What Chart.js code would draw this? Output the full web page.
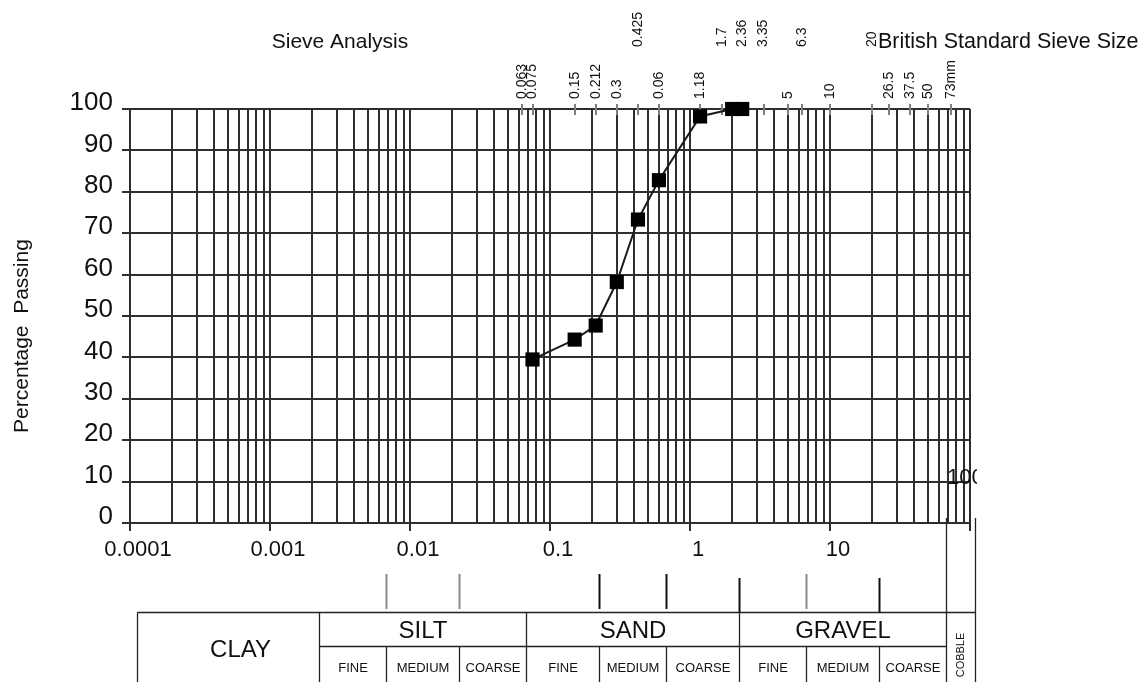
<!DOCTYPE html>
<html>
<head>
<meta charset="utf-8">
<title>Sieve Analysis</title>
<script src="https://cdn.jsdelivr.net/npm/chart.js@4/dist/chart.umd.min.js"></script>
<style>
  html, body { margin: 0; padding: 0; background: #fff; overflow: hidden; }
  canvas { display: block; }
</style>
</head>
<body>
<canvas id="grading" width="1147" height="682"></canvas>
<script>
// Measured sample: particle size (mm) against percentage passing
const sampleSizes = [0.075, 0.15, 0.212, 0.3, 0.425, 0.6, 1.18, 2.0, 2.36];
const percentPassing = [39.5, 44.3, 47.7, 58.2, 73.3, 82.8, 98.2, 100, 100];

// British Standard sieve apertures (mm) and the text printed for each
const sieveSizes = [0.063, 0.075, 0.15, 0.212, 0.3, 0.425, 0.6, 1.18, 1.7, 2.36, 3.35, 5, 6.3, 10, 20, 26.5, 37.5, 50, 73];
const sieveLabels = ['0.063', '0.075', '0.15', '0.212', '0.3', '0.425', '0.06', '1.18', '1.7', '2.36', '3.35', '5', '6.3', '10', '20', '26.5', '37.5', '50', '73mm'];

// Decade tick labels on the particle size axis
const decadeValues = [0.0001, 0.001, 0.01, 0.1, 1, 10];
const decadeLabels = ['0.0001', '0.001', '0.01', '0.1', '1', '10'];

// Soil classification boundaries (mm) and zone names
const zoneBounds = [0.002, 0.006, 0.02, 0.06, 0.2, 0.6, 2, 6, 20, 60];
const mainZones = ['CLAY', 'SILT', 'SAND', 'GRAVEL'];
const subZones = ['FINE', 'MEDIUM', 'COARSE'];

const FONT = '"Liberation Sans", Arial, Helvetica, sans-serif';
const INK = '#111';
const GRID = '#2e2e2e';

// log-cycle grid: 1..9 in every decade from 0.0001 to 100
const gridValues = [];
for (let e = -4; e <= 1; e++) {
  for (let m = 1; m <= 9; m++) gridValues.push(Number((m * Math.pow(10, e)).toPrecision(3)));
}
gridValues.push(100);

const isDecade = v => decadeValues.some(d => Math.abs(d - v) / d < 1e-6) || Math.abs(v - 100) < 1e-6;

// sieve labels lifted to a second row so neighbours do not collide
const raisedSieves = [0.425, 1.7, 2.36, 3.35, 6.3, 20];

function line(ctx, x1, y1, x2, y2) {
  ctx.beginPath();
  ctx.moveTo(x1, y1);
  ctx.lineTo(x2, y2);
  ctx.stroke();
}

const sheetDecor = {
  id: 'sheetDecor',
  beforeDatasetsDraw(chart) {
    const { ctx, scales: { x } } = chart;
    const top = chart.chartArea.top;
    ctx.save();
    ctx.strokeStyle = '#808080';
    ctx.lineWidth = 2;
    sieveSizes.forEach(s => {
      const px = Math.round(x.getPixelForValue(s));
      line(ctx, px, top - 5, px, top + 6);
    });
    ctx.restore();
  },
  afterDraw(chart) {
    const { ctx, chartArea: ca, scales: { x, y } } = chart;
    const H = chart.height;
    ctx.save();
    ctx.fillStyle = INK;

    // headings
    ctx.font = `21px ${FONT}`;
    ctx.textBaseline = 'alphabetic';
    ctx.textAlign = 'center';
    ctx.fillText('Sieve Analysis', 340, 48);
    ctx.textAlign = 'left';
    ctx.font = `21.5px ${FONT}`;
    ctx.fillText('British Standard Sieve Size', 878, 48);

    // vertical axis title
    ctx.save();
    ctx.translate(22, 336);
    ctx.rotate(-Math.PI / 2);
    ctx.textAlign = 'center';
    ctx.textBaseline = 'middle';
    ctx.font = `21px ${FONT}`;
    ctx.fillText('Percentage  Passing', 0, 0);
    ctx.restore();

    // sieve aperture labels along the top edge
    ctx.font = `14px ${FONT}`;
    sieveSizes.forEach((s, i) => {
      const px = x.getPixelForValue(s);
      const yb = raisedSieves.includes(s) ? ca.top - 62 : ca.top - 10;
      ctx.save();
      ctx.translate(px, yb);
      ctx.rotate(-Math.PI / 2);
      ctx.textAlign = 'left';
      ctx.textBaseline = 'middle';
      ctx.fillText(sieveLabels[i], 0, 0);
      ctx.restore();
    });

    // end label of the size axis, cut by the sheet edge
    ctx.save();
    ctx.beginPath();
    ctx.rect(0, 0, ca.right + 7, H);
    ctx.clip();
    ctx.font = `22px ${FONT}`;
    ctx.textAlign = 'left';
    ctx.textBaseline = 'middle';
    ctx.fillText('100', x.getPixelForValue(100) - 23, y.getPixelForValue(11));
    ctx.restore();

    // classification table under the axis
    const shift = 7;
    const bx = v => Math.round(x.getPixelForValue(v)) + shift + 0.5;
    const tTop = ca.bottom + 89.5;
    const tMid = ca.bottom + 123.5;
    const tBot = H + 2;
    const tLeft = Math.round(ca.left) + shift + 0.5;
    const tRight = Math.round(ca.right) + 5.5;
    // boundary pixels, in the order of zoneBounds
    const [p002, p006, p02, p06, p2, p6, p20, p60, p200, p600] = zoneBounds.map(bx);

    ctx.strokeStyle = '#222';
    ctx.lineWidth = 1.3;
    line(ctx, tLeft, tTop, tRight, tTop);
    line(ctx, tLeft, tTop, tLeft, tBot);
    line(ctx, tRight, ca.bottom - 5, tRight, tBot);
    line(ctx, p600, ca.bottom - 5, p600, tBot);
    line(ctx, p002, tMid, p600, tMid);
    [p002, p06, p20].forEach(p => line(ctx, p, tTop, p, tBot));
    [p006, p02, p2, p6, p60, p200].forEach(p => line(ctx, p, tMid, p, tBot));

    // boundary markers above the table
    const markTop = ca.bottom + 51;
    const markBot = ca.bottom + 86;
    ctx.lineWidth = 2;
    ctx.strokeStyle = '#8a8a8a';
    [p006, p02, p60].forEach(p => line(ctx, p, markTop, p, markBot));
    ctx.strokeStyle = '#111';
    [p2, p6].forEach(p => line(ctx, p, markTop, p, markBot));
    [p20, p200].forEach(p => line(ctx, p, markTop + 4, p, tTop));

    // zone names
    ctx.fillStyle = INK;
    ctx.textAlign = 'center';
    ctx.textBaseline = 'middle';
    ctx.font = `24px ${FONT}`;
    ctx.fillText(mainZones[0], (tLeft + p002) / 2 + 12, ca.bottom + 127);
    ctx.fillText(mainZones[1], (p002 + p06) / 2, ca.bottom + 108);
    ctx.fillText(mainZones[2], (p06 + p20) / 2, ca.bottom + 108);
    ctx.fillText(mainZones[3], (p20 + p600) / 2, ca.bottom + 108);

    ctx.font = `13px ${FONT}`;
    const groups = [[p002, p006, p02, p06], [p06, p2, p6, p20], [p20, p60, p200, p600]];
    groups.forEach(g => {
      for (let k = 0; k < 3; k++) {
        ctx.fillText(subZones[k], (g[k] + g[k + 1]) / 2, ca.bottom + 145);
      }
    });

    ctx.save();
    ctx.translate((p600 + tRight) / 2, ca.bottom + 132);
    ctx.rotate(-Math.PI / 2);
    ctx.font = `11px ${FONT}`;
    ctx.fillText('COBBLE', 0, 0);
    ctx.restore();

    ctx.restore();
  }
};

new Chart(document.getElementById('grading'), {
  type: 'line',
  data: {
    datasets: [{
      data: sampleSizes.map((s, i) => ({ x: s, y: percentPassing[i] })),
      borderColor: '#1a1a1a',
      borderWidth: 2,
      pointStyle: 'rect',
      pointRadius: 10,
      pointHoverRadius: 10,
      pointBackgroundColor: '#000',
      pointBorderColor: '#000',
      pointBorderWidth: 0,
      tension: 0,
      clip: false
    }]
  },
  options: {
    responsive: false,
    animation: false,
    events: [],
    layout: { padding: { left: 0, top: 109, right: 177, bottom: 119 } },
    plugins: {
      legend: { display: false },
      tooltip: { enabled: false },
      title: { display: false }
    },
    scales: {
      x: {
        type: 'logarithmic',
        position: 'bottom',
        min: 0.0001,
        max: 100,
        afterBuildTicks: s => { s.ticks = gridValues.map(v => ({ value: v, major: isDecade(v) })); },
        afterFit: s => { s.height = 40; },
        ticks: {
          autoSkip: false,
          maxRotation: 0,
          minRotation: 0,
          padding: 6,
          labelOffset: 8,
          color: INK,
          font: { family: FONT, size: 22 },
          callback: v => {
            const k = decadeValues.findIndex(d => Math.abs(d - v) / d < 1e-6);
            return k >= 0 ? decadeLabels[k] : '';
          }
        },
        grid: {
          color: GRID,
          lineWidth: 2,
          tickLength: 8,
          tickColor: c => (c.tick && isDecade(c.tick.value)) ? GRID : 'rgba(0,0,0,0)'
        },
        border: { display: true, color: GRID, width: 2 }
      },
      y: {
        min: 0,
        max: 100,
        afterFit: s => { s.width = 130; },
        ticks: {
          stepSize: 10,
          padding: 9,
          labelOffset: -6,
          color: INK,
          font: { family: FONT, size: 26 }
        },
        grid: { color: GRID, lineWidth: 2, tickLength: 8 },
        border: { display: true, color: GRID, width: 2 }
      }
    }
  },
  plugins: [sheetDecor]
});
</script>
</body>
</html>
